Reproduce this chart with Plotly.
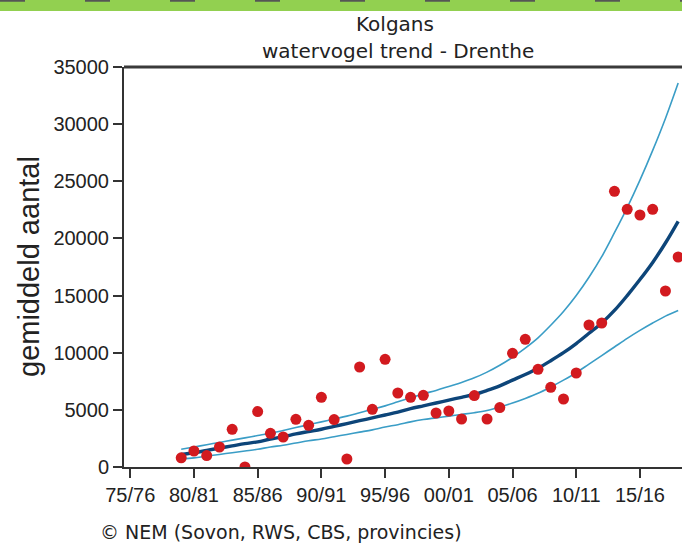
import plotly.graph_objects as go

# ---- data ----
seasons = list(range(1979, 2019))  # season start year (1979 = 79/80)
counts = [800, 1400, 1000, 1750, 3300, 0, 4850, 2950, 2625, 4170,
          3650, 6100, 4150, 700, 8750, 5050, 9420, 6475, 6100, 6270,
          4725, 4900, 4200, 6250, 4200, 5200, 9950, 11170, 8550, 6970,
          5950, 8225, 12425, 12600, 24120, 22550, 22050, 22550, 15400, 18375]
trend = [1100, 1250, 1450, 1650, 1850, 2050, 2200, 2450, 2650, 2900,
         3100, 3300, 3550, 3800, 4050, 4300, 4550, 4800, 5100, 5350,
         5600, 5850, 6100, 6350, 6700, 7100, 7600, 8100, 8650, 9300,
         10000, 10800, 11700, 12600, 13700, 15000, 16400, 17900, 19600, 21500]
upper = [1550, 1750, 1950, 2150, 2350, 2550, 2750, 2950, 3200, 3450,
         3700, 3950, 4200, 4450, 4750, 5050, 5350, 5700, 6050, 6400,
         6700, 7050, 7400, 7800, 8300, 8900, 9600, 10400, 11300, 12400,
         13600, 15000, 16600, 18400, 20500, 22700, 25100, 27700, 30500, 33600]
lower = [700, 800, 950, 1100, 1250, 1400, 1550, 1750, 1900, 2100,
         2300, 2450, 2650, 2850, 3050, 3250, 3500, 3700, 3950, 4150,
         4300, 4450, 4600, 4750, 4950, 5250, 5600, 6000, 6450, 7000,
         7600, 8250, 9000, 9750, 10500, 11250, 11950, 12600, 13200, 13700]
tick_years = [1975, 1980, 1985, 1990, 1995, 2000, 2005, 2010, 2015]
tick_labels = ["75/76", "80/81", "85/86", "90/91", "95/96", "00/01", "05/06", "10/11", "15/16"]
y_ticks = [0, 5000, 10000, 15000, 20000, 25000, 30000, 35000]

W, H = 682, 545
L, R, T, B = 124, 0, 67, 78
pw, ph = W - L - R, H - T - B

def px_x(px):
    return (px - L) / pw

def px_y(py):
    return (H - B - py) / ph

fig = go.Figure()
for band in (upper, lower):
    fig.add_trace(go.Scatter(x=seasons, y=band, mode="lines",
                             line=dict(color="#3a9dc6", width=1.6, shape="spline", smoothing=1.0),
                             hoverinfo="skip", showlegend=False))
fig.add_trace(go.Scatter(x=seasons, y=trend, mode="lines",
                         line=dict(color="#0d4579", width=3.4, shape="spline", smoothing=1.0),
                         showlegend=False))
fig.add_trace(go.Scatter(x=seasons, y=counts, mode="markers",
                         marker=dict(color="#d21a1f", size=11),
                         showlegend=False))

axis_font = dict(family="Liberation Sans, Arial, sans-serif", size=20, color="#222")
fig.update_xaxes(range=[1974.51, 2018.3], tickvals=tick_years, ticktext=tick_labels,
                 showgrid=False, zeroline=False, showline=True, linecolor="#333",
                 linewidth=2, ticks="outside", ticklen=9, tickwidth=2, tickcolor="#333",
                 tickfont=axis_font)
fig.update_yaxes(range=[0, 35000], tickvals=y_ticks, tickformat="d", showgrid=False,
                 zeroline=False, showline=True, linecolor="#333", linewidth=2,
                 ticks="outside", ticklen=9, tickwidth=2, tickcolor="#333", tickfont=axis_font)

title_font = dict(family="DejaVu Sans, sans-serif", size=20, color="#222")
fig.update_layout(
    width=W, height=H, margin=dict(l=L, r=R, t=T, b=B),
    paper_bgcolor="white", plot_bgcolor="white",
    shapes=[
        dict(type="rect", xref="paper", yref="paper", x0=px_x(-5), x1=px_x(W + 5),
             y0=px_y(11), y1=px_y(-5), fillcolor="#92d050", line=dict(width=0), layer="above"),
        dict(type="line", xref="paper", yref="paper", x0=px_x(0), x1=px_x(W),
             y0=px_y(0.8), y1=px_y(0.8), line=dict(color="#555", width=2, dash="25px,60px")),
        dict(type="line", xref="paper", yref="paper", x0=0, x1=1.01, y0=1, y1=1,
             line=dict(color="#3a3a3a", width=3)),
    ],
    annotations=[
        dict(text="Kolgans", xref="paper", yref="paper", x=px_x(395), y=px_y(24),
             xanchor="center", yanchor="middle", showarrow=False, font=title_font),
        dict(text="watervogel trend - Drenthe", xref="paper", yref="paper",
             x=px_x(398), y=px_y(51), xanchor="center", yanchor="middle",
             showarrow=False, font=title_font),
        dict(text="gemiddeld aantal", xref="paper", yref="paper", x=px_x(29), y=px_y(267),
             xanchor="center", yanchor="middle", textangle=-90, showarrow=False,
             font=dict(family="Liberation Sans, Arial, sans-serif", size=29, color="#222")),
        dict(text="© NEM (Sovon, RWS, CBS, provincies)", xref="paper", yref="paper",
             x=px_x(98), y=px_y(532), xanchor="left", yanchor="middle", showarrow=False,
             font=dict(family="DejaVu Sans, sans-serif", size=19, color="#222")),
    ],
)

fig.write_html("out.html", config={"displayModeBar": False},
               post_script="document.body.style.margin='0px';")
